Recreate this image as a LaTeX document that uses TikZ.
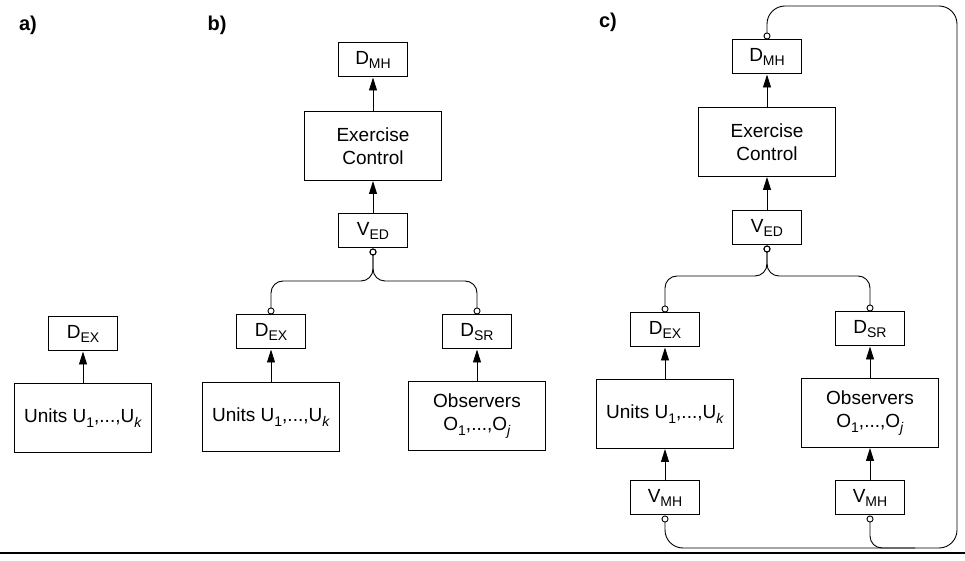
\documentclass[tikz,border=0pt]{standalone}
\usepackage{fontspec}
\setmainfont{Liberation Sans}
\usetikzlibrary{arrows.meta}
\newcommand{\subtag}[1]{\raisebox{-0.45ex}{\fontsize{7}{8}\selectfont #1}}

\begin{document}
\begin{tikzpicture}[x=0.5pt, y=-0.5pt,
        box/.style = {draw, line width=0.5pt, inner sep=0pt, align=center, font = {\fontsize{9.5}{11.5}\selectfont}},
        smallbox/.style = {box, minimum width=34.5pt, minimum height=17pt},
        bigbox/.style = {box, minimum width=68.5pt, minimum height=34.5pt},
        feed/.style = {-{Triangle[length=6.5pt, width=4pt]}, line width=0.45pt},
        tie/.style = {{Circle[open, length=3.5pt]}-{Circle[open, length=3.5pt]}, line width=0.45pt, rounded corners=6pt},
        halftie/.style = {{Circle[open, length=3.5pt]}-, line width=0.45pt, rounded corners=6pt},
        panel/.style = {font = {\bfseries\fontsize{10}{12}\selectfont}}]
        \useasboundingbox (0,0) rectangle (965,561);

        \node[panel] (la) at (28,25) {a)};
        \node[smallbox] (dexa) at (83,334) {D\subtag{EX}};
        \node[bigbox] (unitsa) at (83,418) {Units U\subtag{1},...,U\subtag{\textit{k}}};
        \draw[feed] (unitsa.north) -- (dexa.south);

        \node[panel] (lb) at (217,25) {b)};
        \node[smallbox] (dmhb) at (373,60) {D\subtag{MH}};
        \node[bigbox] (ecb) at (373,146) {Exercise\\Control};
        \node[smallbox] (vedb) at (373,231) {V\subtag{ED}};
        \node[smallbox] (dexb) at (271,332) {D\subtag{EX}};
        \node[smallbox] (dsrb) at (477,332) {D\subtag{SR}};
        \node[bigbox] (unitsb) at (271,417) {Units U\subtag{1},...,U\subtag{\textit{k}}};
        \node[bigbox] (obsb) at (477,416) {Observers\\O\subtag{1},...,O\subtag{\textit{j}}};
        \coordinate (forkb) at (373,281);
        \draw[feed] (ecb.north) -- (dmhb.south);
        \draw[feed] (vedb.north) -- (ecb.south);
        \draw[feed] (unitsb.north) -- (dexb.south);
        \draw[feed] (obsb.north) -- (dsrb.south);
        \draw[tie] (vedb.south) -- (forkb) -| (dexb.north);
        \draw[tie] (vedb.south) -- (forkb) -| (dsrb.north);

        \node[panel] (lc) at (608,22) {c)};
        \node[smallbox] (dmhc) at (767,57) {D\subtag{MH}};
        \node[bigbox] (ecc) at (767,142) {Exercise\\Control};
        \node[smallbox] (vedc) at (767,228) {V\subtag{ED}};
        \node[smallbox] (dexc) at (665,330) {D\subtag{EX}};
        \node[smallbox] (dsrc) at (870,329) {D\subtag{SR}};
        \node[bigbox] (unitsc) at (665,414) {Units U\subtag{1},...,U\subtag{\textit{k}}};
        \node[bigbox] (obsc) at (870,413) {Observers\\O\subtag{1},...,O\subtag{\textit{j}}};
        \node[smallbox] (vmhl) at (665,498) {V\subtag{MH}};
        \node[smallbox] (vmhr) at (870,498) {V\subtag{MH}};
        \coordinate (forkc) at (767,276);
        \coordinate (loopbr) at (957,548);
        \coordinate (looptr) at (957,6);
        \coordinate (mergec) at (915,548);
        \draw[feed] (ecc.north) -- (dmhc.south);
        \draw[feed] (vedc.north) -- (ecc.south);
        \draw[feed] (unitsc.north) -- (dexc.south);
        \draw[feed] (obsc.north) -- (dsrc.south);
        \draw[feed] (vmhl.north) -- (unitsc.south);
        \draw[feed] (vmhr.north) -- (obsc.south);
        \draw[tie] (vedc.south) -- (forkc) -| (dexc.north);
        \draw[tie] (vedc.south) -- (forkc) -| (dsrc.north);
        \draw[tie, rounded corners=9pt] (vmhl.south) |- (loopbr) -- (looptr) -| (dmhc.north);
        \draw[halftie] (vmhr.south) |- (mergec);

        \draw[line width=1.1pt] (0,553) -- (965,553);
\end{tikzpicture}
\end{document}
